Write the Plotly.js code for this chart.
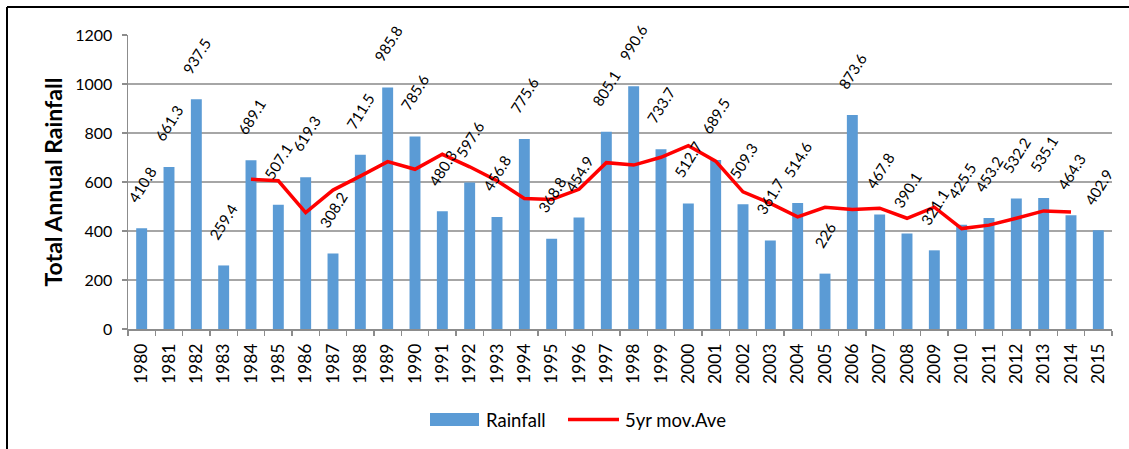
<!DOCTYPE html>
<html>
<head>
<meta charset="utf-8">
<script src="https://cdn.plot.ly/plotly-3.0.1.min.js"></script>
<style>
  html, body { margin: 0; padding: 0; background: #ffffff; }
  #chart { width: 1129px; height: 449px; }
</style>
</head>
<body>
<div id="chart"></div>
<script>
// Data
const years = ["1980","1981","1982","1983","1984","1985","1986","1987","1988","1989",
               "1990","1991","1992","1993","1994","1995","1996","1997","1998","1999",
               "2000","2001","2002","2003","2004","2005","2006","2007","2008","2009",
               "2010","2011","2012","2013","2014","2015"];
const rainfall = [410.8, 661.3, 937.5, 259.4, 689.1, 507.1, 619.3, 308.2, 711.5, 985.8,
                  785.6, 480.3, 597.6, 456.8, 775.6, 368.8, 454.9, 805.1, 990.6, 733.7,
                  512.7, 689.5, 509.3, 361.7, 514.6, 226, 873.6, 467.8, 390.1, 321.1,
                  425.5, 453.2, 532.2, 535.1, 464.3, 402.9];
const maYears = ["1984","1985","1986","1987","1988","1989","1990","1991","1992","1993",
                 "1994","1995","1996","1997","1998","1999","2000","2001","2002","2003",
                 "2004","2005","2006","2007","2008","2009","2010","2011","2012","2013","2014"];
const movingAvg = [611, 605, 475, 567, 624, 683, 652, 713, 662, 605,
                   533, 529, 570, 679, 669, 701, 748, 685, 560, 513,
                   458, 497, 488, 493, 452, 497, 410, 424, 452, 482, 478];
const yTicks = [0, 200, 400, 600, 800, 1000, 1200];
const seriesNames = ["Rainfall", "5yr mov.Ave"];

const FONT = "Lato, 'Open Sans', Arial, sans-serif";
const BAR_COLOR = "#5b9bd5";
const LINE_COLOR = "#ff0000";

// plot area in pixels (for legend / frame placement)
const PL = 128, PR = 1112, PT = 35, PB = 329;
const px2x = p => (p - PL) / (PR - PL);
const px2y = p => (PB - p) / (PB - PT);

const traces = [
  {
    type: "bar",
    name: seriesNames[0],
    x: years,
    y: rainfall,
    marker: { color: BAR_COLOR, line: { width: 0 } },
    showlegend: false
  },
  {
    type: "scatter",
    mode: "lines",
    name: seriesNames[1],
    x: maYears,
    y: movingAvg,
    line: { color: LINE_COLOR, width: 3.5 },
    showlegend: false
  }
];

// data labels (category index positions on the category axis)
const annotations = rainfall.map((v, i) => ({
  x: i,
  y: v,
  xref: "x",
  yref: "y",
  text: String(v),
  showarrow: false,
  textangle: -58,
  xanchor: "center",
  yanchor: "bottom",
  yshift: 20,
  font: { family: FONT, size: 15, color: "#000000" }
}));

// legend texts
annotations.push({
  xref: "paper", yref: "paper", x: px2x(484), y: px2y(419.5),
  xanchor: "left", yanchor: "middle", showarrow: false,
  text: seriesNames[0], font: { family: FONT, size: 18.5, color: "#000000" }
});
annotations.push({
  xref: "paper", yref: "paper", x: px2x(623), y: px2y(419.5),
  xanchor: "left", yanchor: "middle", showarrow: false,
  text: seriesNames[1], font: { family: FONT, size: 18.5, color: "#000000" }
});

const shapes = [
  // outer frame (top and left edges)
  { type: "line", xref: "paper", yref: "paper",
    x0: px2x(7), x1: px2x(1129), y0: px2y(7), y1: px2y(7),
    line: { color: "#000000", width: 2 } },
  { type: "line", xref: "paper", yref: "paper",
    x0: px2x(7), x1: px2x(7), y0: px2y(7), y1: px2y(449),
    line: { color: "#000000", width: 2 } },
  // legend symbols
  { type: "rect", xref: "paper", yref: "paper",
    x0: px2x(430), x1: px2x(479), y0: px2y(413), y1: px2y(426),
    fillcolor: BAR_COLOR, line: { width: 0 } },
  { type: "line", xref: "paper", yref: "paper",
    x0: px2x(568), x1: px2x(619), y0: px2y(419.5), y1: px2y(419.5),
    line: { color: LINE_COLOR, width: 3.5 } }
];

const layout = {
  width: 1129,
  height: 449,
  margin: { l: PL, r: 1129 - PR, t: PT, b: 449 - PB },
  paper_bgcolor: "#ffffff",
  plot_bgcolor: "#ffffff",
  bargap: 0.6,
  showlegend: false,
  xaxis: {
    type: "category",
    range: [-0.5, 35.5],
    tickangle: -90,
    tickson: "boundaries",
    ticks: "outside",
    ticklen: 5,
    tickwidth: 1.5,
    tickcolor: "#8c8c8c",
    showline: true,
    linecolor: "#8c8c8c",
    linewidth: 1.5,
    showgrid: false,
    ticklabelstandoff: 6,
    tickfont: { family: FONT, size: 17.5, color: "#000000" }
  },
  yaxis: {
    range: [0, 1200],
    tickmode: "array",
    tickvals: yTicks,
    ticktext: yTicks.map(String),
    ticks: "outside",
    ticklen: 5,
    tickwidth: 1.5,
    tickcolor: "#8c8c8c",
    showline: true,
    linecolor: "#8c8c8c",
    linewidth: 1.5,
    showgrid: true,
    gridcolor: "#a6a6a6",
    gridwidth: 1.5,
    zeroline: false,
    ticklabelstandoff: 6,
    tickfont: { family: FONT, size: 16, color: "#000000" },
    title: {
      text: "Total Annual Rainfall",
      font: { family: FONT, size: 23, color: "#000000", weight: "bold" },
      standoff: 6
    }
  },
  annotations: annotations,
  shapes: shapes
};

Plotly.newPlot("chart", traces, layout, { displayModeBar: false, staticPlot: true });
</script>
</body>
</html>
